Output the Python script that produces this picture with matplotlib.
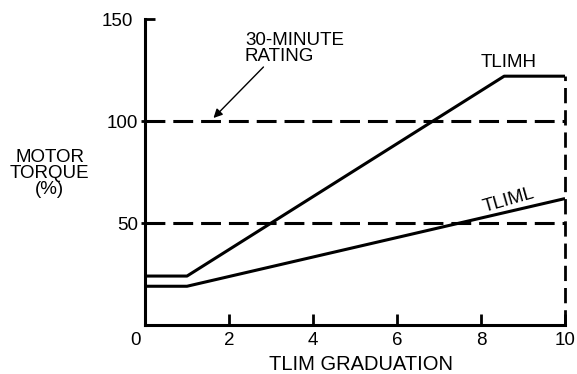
import numpy as np
import matplotlib.pyplot as plt
import matplotlib.transforms as mtransforms

plt.rcParams['font.family'] = ['Liberation Sans', 'DejaVu Sans']

# TLIM graduation vs motor torque (%)
tlimh_x = [0, 1, 8.55, 10]
tlimh_y = [24, 24, 122, 122]
tliml_x = [0, 1, 10]
tliml_y = [19, 19, 62]
rating_levels = [100, 50]
xticks = [0, 2, 4, 6, 8, 10]
yticks = [50, 100]

fs = 13.5

fig = plt.figure(figsize=(5.77, 3.74), dpi=100)
ax = fig.add_axes([0.2513, 0.131, 0.728, 0.818])

lw = 2.2
ax.plot(tlimh_x, tlimh_y, color='k', lw=lw, solid_capstyle='butt')
ax.plot(tliml_x, tliml_y, color='k', lw=lw, solid_capstyle='butt')
for lev in rating_levels:
    ax.plot([0, 10], [lev, lev], color='k', lw=lw, dashes=(6.5, 2.6))
ax.plot([10, 10], [0, tlimh_y[-1]], color='k', lw=2.0, dashes=(5.5, 2.5),
        clip_on=False)

ax.set_xlim(0, 10)
ax.set_ylim(0, 150)

for s in ['top', 'right']:
    ax.spines[s].set_visible(False)
for s in ['left', 'bottom']:
    ax.spines[s].set_linewidth(2.2)

ax.set_xticks(xticks)
ax.set_xticklabels([str(v) for v in xticks], fontsize=fs)
ax.tick_params(axis='x', direction='in', length=8, width=2, pad=5)
ax.set_yticks(yticks)
ax.set_yticklabels([str(v) for v in yticks], fontsize=fs)
ax.tick_params(axis='y', direction='out', length=3, width=2, pad=2)
ax.set_yticks([150], labels=['150'], minor=True)
ax.tick_params(axis='y', which='minor', direction='in', length=7, width=2,
               labelsize=fs, pad=9)

# shift the shared "0" label a bit left
lab0 = ax.get_xticklabels()[0]
lab0.set_transform(lab0.get_transform() + mtransforms.ScaledTranslation(-10 / 100, 0, fig.dpi_scale_trans))

ax.text(-2.27, 74.5, 'MOTOR\nTORQUE\n(%)', ha='center', va='center',
        fontsize=fs, linespacing=0.92, clip_on=False)
ax.text(5.15, -19.5, 'TLIM GRADUATION', ha='center', va='center', fontsize=14.5,
        clip_on=False)
ax.text(2.38, 135.5, '30-MINUTE\nRATING', ha='left', va='center', fontsize=fs,
        linespacing=0.92)
ax.annotate('', xy=(1.63, 101.5), xytext=(2.82, 126.5),
            arrowprops=dict(arrowstyle='-|>', color='k', lw=1.0,
                            mutation_scale=13, shrinkA=0, shrinkB=0))
ax.text(8.65, 128.5, 'TLIMH', ha='center', va='center', fontsize=fs)
ax.text(8.65, 61, 'TLIML', ha='center', va='center', fontsize=fs, rotation=16)

fig.savefig('out.png', dpi=100)
